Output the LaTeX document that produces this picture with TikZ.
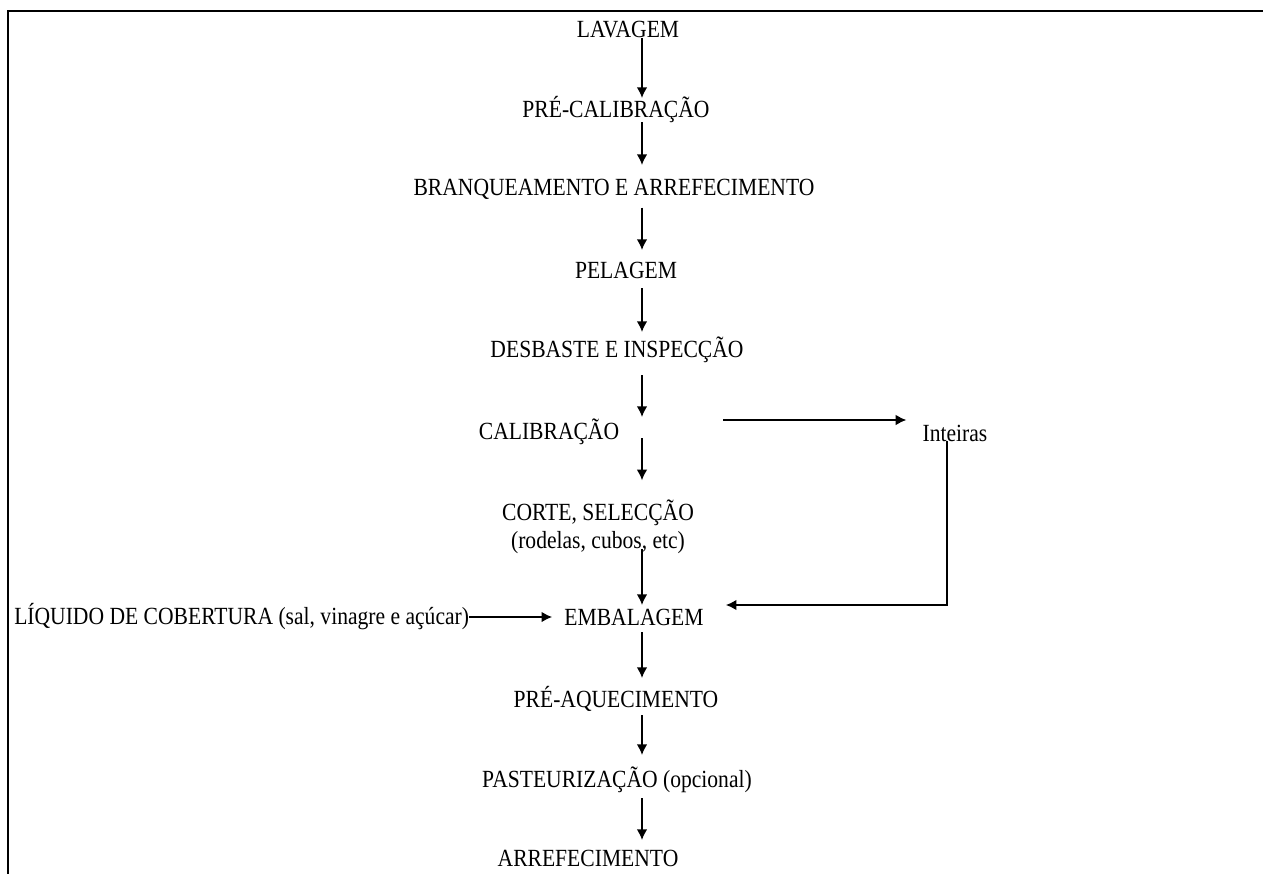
\documentclass[tikz,border=0pt]{standalone}
\usepackage{fontspec}
\setmainfont{Liberation Serif}[FakeStretch=0.875]
\usepackage{tikz}
\usetikzlibrary{arrows.meta}
\tikzstyle{stage}=[inner sep=0pt,align=center]
\tikzstyle{flow} = [draw,line width=1.3pt,-{Latex[length=8pt,width=8pt]}]
\tikzstyle{frame} = [draw,line width=1.4pt]

\begin{document}
\begin{tikzpicture}[x=0.75pt,y=-0.75pt,font=\fontsize{18.5}{21}\selectfont]
    \useasboundingbox (0,0) rectangle (1263,874);
    \path[frame] (8,874) -- (8,11) -- (1263,11);

    % First we place the stages
    \foreach \pos/\name/\txt in {{(628,30)/lav/LAVAGEM}, {(616,110)/precal/PRÉ-CALIBRAÇÃO}, {(614,189)/branq/BRANQUEAMENTO E ARREFECIMENTO}, {(626,270)/pel/PELAGEM}, {(617,350)/desb/DESBASTE E INSPECÇÃO}, {(549,432)/calib/CALIBRAÇÃO}, {(598,527)/corte/{CORTE, SELECÇÃO\\(rodelas, cubos, etc)}}, {(634,617)/emb/EMBALAGEM}, {(616,699)/preaq/PRÉ-AQUECIMENTO}, {(617,780)/past/PASTEURIZAÇÃO (opcional)}, {(588,858)/arref/ARREFECIMENTO}}
        \node[stage] (\name) at \pos {\txt};

    \node[stage] (inteiras) at (955,433) {Inteiras};
    \node[stage,anchor=west] (liquido) at (14,617) {LÍQUIDO DE COBERTURA (sal, vinagre e açúcar)};

    % Main line of arrows
    \coordinate (col) at (642,0);
    \foreach \a/\b/\s/\e in {lav/precal/6pt/9pt, precal/branq/9pt/18pt, branq/pel/14pt/15pt, pel/desb/13.5pt/13.5pt, desb/calib/18.75pt/11.25pt, calib/corte/4.5pt/35pt, corte/emb/16.5pt/9pt, emb/preaq/11.25pt/15.75pt, preaq/past/12pt/18.75pt, past/arref/13.5pt/13.5pt}
        \path[flow,shorten <=\s,shorten >=\e] (\a.center -| col) -- (\b.center -| col);

    % Side branches
    \coordinate (cut) at ([xshift=78pt,yshift=9pt]calib.east);
    \path[flow,shorten >=12pt] (cut) -- (cut -| inteiras.west);
    \coordinate (drop) at ([xshift=-6pt]inteiras.base);
    \path[flow,shorten >=16.5pt] (drop) |- ([yshift=9pt]emb.east);
    \path[flow,shorten >=9pt] (liquido) -- (emb);
\end{tikzpicture}
\end{document}
